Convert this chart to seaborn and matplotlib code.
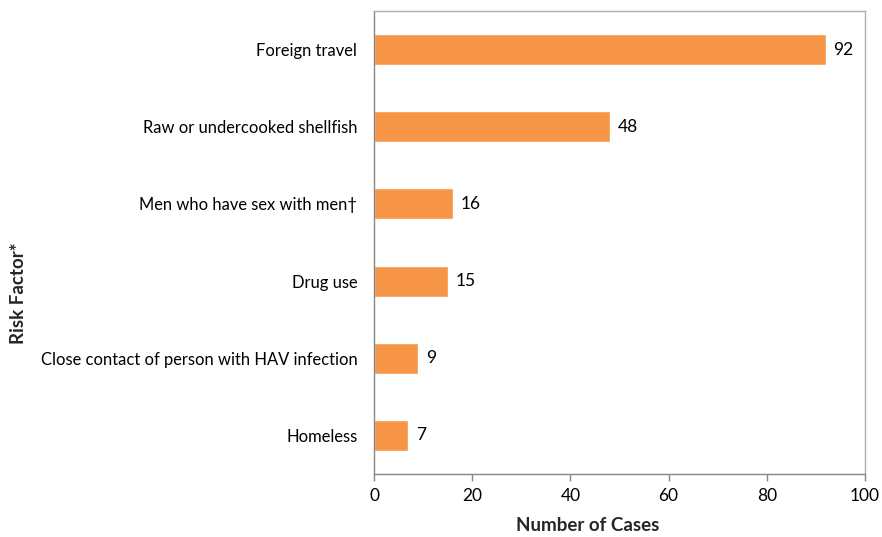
import matplotlib
matplotlib.use("Agg")
import matplotlib.pyplot as plt
import seaborn as sns
import pandas as pd

categories = [
    "Foreign travel",
    "Raw or undercooked shellfish",
    "Men who have sex with men\u2020",
    "Drug use",
    "Close contact of person with HAV infection",
    "Homeless",
]
cases = [92, 48, 16, 15, 9, 7]
x_ticks = [0, 20, 40, 60, 80, 100]

sns.set_theme(style="white")
plt.rcParams["font.family"] = ["Lato", "DejaVu Sans"]

df = pd.DataFrame({"Risk Factor": categories, "Cases": cases})

fig = plt.figure(figsize=(8.82, 5.37), dpi=100)
ax = fig.add_axes([374 / 882, 1 - 474 / 537, (865 - 374) / 882, (474 - 11) / 537])

sns.barplot(data=df, x="Cases", y="Risk Factor", color="#F79646",
            width=0.4, saturation=1, ax=ax, order=categories)

for patch, v in zip(ax.patches, cases):
    y = patch.get_y() + patch.get_height() / 2
    ax.text(v + 1.6, y, str(v), va="center", ha="left", fontsize=12.5, color="#000000")

ax.set_xlim(0, 100)
ax.set_ylim(5.5, -0.5)
ax.set_xticks(x_ticks)
ax.set_xticklabels([str(t) for t in x_ticks], fontsize=12.5)
ax.tick_params(axis="x", which="major", direction="out", length=5, width=1,
               color="#868686", bottom=True, pad=5)
ax.tick_params(axis="y", length=0, pad=12, labelsize=11.9)
for lbl in ax.get_yticklabels():
    lbl.set_color("#000000")
for lbl in ax.get_xticklabels():
    lbl.set_color("#000000")

for side, sp in ax.spines.items():
    sp.set_visible(True)
    sp.set_color("#B0B0B0" if side in ("top", "right") else "#868686")
    sp.set_linewidth(1)

ax.set_xlabel("Number of Cases", fontsize=13.5, fontweight="bold")
ax.set_ylabel("Risk Factor*", fontsize=13.5, fontweight="bold")
ax.xaxis.set_label_coords(0.435, -0.092)
ax.yaxis.set_label_coords(-0.707, 0.391)

fig.savefig("out.png", dpi=100)
